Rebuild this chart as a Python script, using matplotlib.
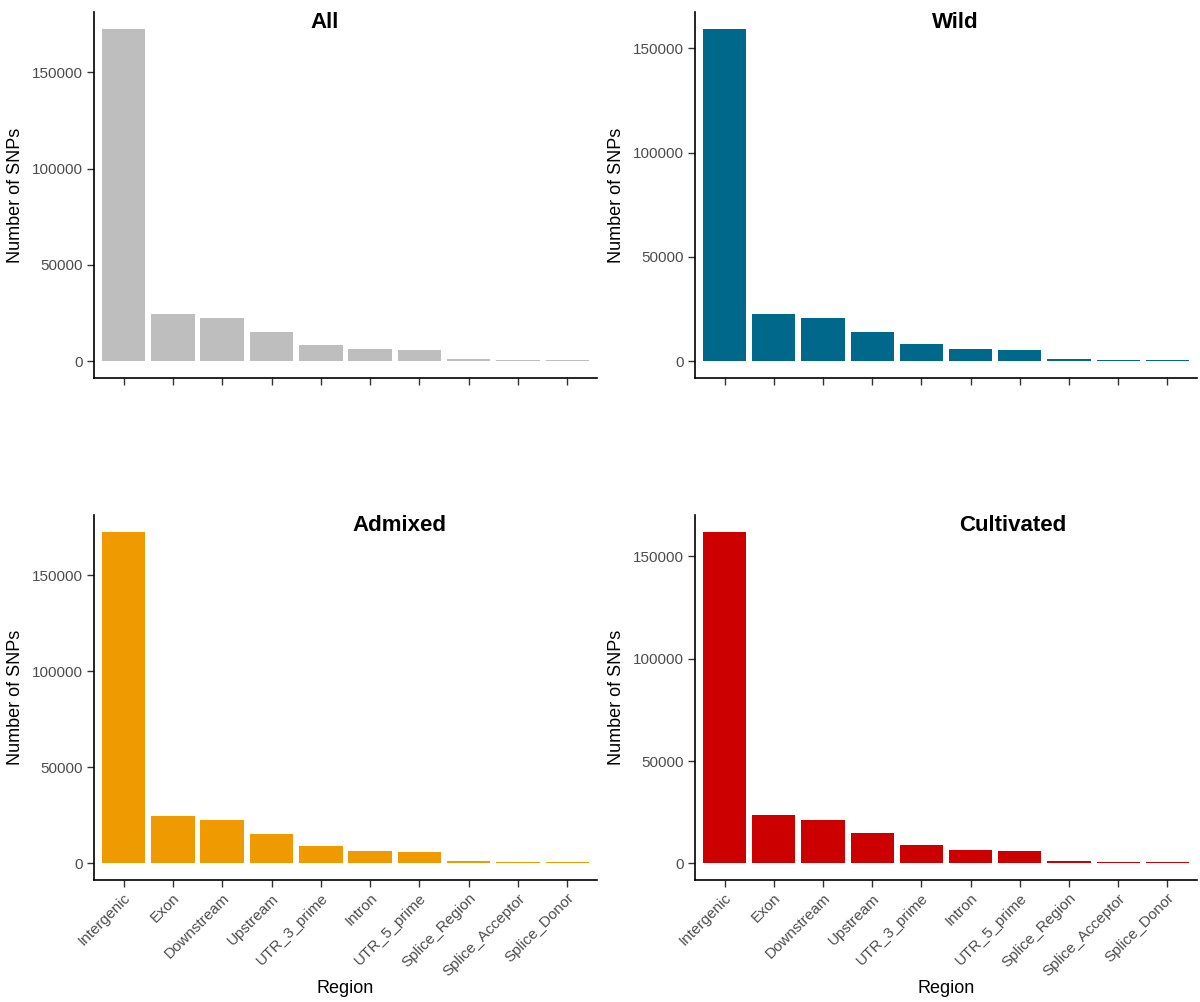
import matplotlib
matplotlib.use("Agg")
import matplotlib.pyplot as plt
import numpy as np

plt.rcParams['font.family'] = ['Liberation Sans', 'DejaVu Sans']

regions = ["Intergenic", "Exon", "Downstream", "Upstream", "UTR_3_prime",
           "Intron", "UTR_5_prime", "Splice_Region", "Splice_Acceptor", "Splice_Donor"]

all_snps = [172600, 24700, 22400, 15200, 8700, 6300, 5900, 1000, 450, 450]
wild_snps = [159400, 22900, 20900, 14000, 8300, 5700, 5400, 900, 420, 420]
admixed_snps = [172600, 24800, 22600, 15200, 9000, 6600, 6100, 1100, 500, 500]
cultivated_snps = [162100, 23600, 21200, 14600, 8800, 6400, 6000, 1000, 430, 430]

panels = [
    ("All", all_snps, "#BEBEBE", 0.459),
    ("Wild", wild_snps, "#00688B", 0.518),
    ("Admixed", admixed_snps, "#EE9A00", 0.608),
    ("Cultivated", cultivated_snps, "#CD0000", 0.633),
]

# axes boxes in figure fractions [left, bottom, width, height]
boxes = [
    [0.0783, 0.6228, 0.4192, 0.3652],
    [0.5792, 0.6228, 0.4183, 0.3652],
    [0.0783, 0.1218, 0.4192, 0.3642],
    [0.5792, 0.1218, 0.4183, 0.3642],
]


def draw(ax, title, values, color, title_x, show_labels):
    x = np.arange(len(regions))
    ax.bar(x, values, width=0.88, color=color, linewidth=0)
    ax.set_xlim(-0.6, len(regions) - 0.4)
    top = max(values)
    ax.set_ylim(-0.05 * top, top * 1.05)
    ax.set_yticks([0, 50000, 100000, 150000])
    ax.set_yticklabels(["0", "50000", "100000", "150000"])
    ax.set_xticks(x)
    if show_labels:
        ax.set_xticklabels(regions, rotation=45, ha="right", rotation_mode="anchor")
        ax.set_xlabel("Region", fontsize=13, labelpad=1)
    else:
        ax.set_xticklabels([])
    ax.set_ylabel("Number of SNPs", fontsize=13, labelpad=6)
    for s in ["top", "right"]:
        ax.spines[s].set_visible(False)
    for s in ["left", "bottom"]:
        ax.spines[s].set_linewidth(1.2)
        ax.spines[s].set_color("black")
    ax.tick_params(axis="both", length=5, width=1.0, color="#333333",
                   labelcolor="#4D4D4D", labelsize=11, pad=3)
    ax.text(title_x, 0.972, title, transform=ax.transAxes, ha="center", va="center",
            fontsize=16, fontweight="bold")


def main():
    fig = plt.figure(figsize=(12, 10.02), dpi=100)
    for i, (title, values, color, tx) in enumerate(panels):
        ax = fig.add_axes(boxes[i])
        draw(ax, title, values, color, tx, show_labels=(i >= 2))
    fig.savefig("out.png", dpi=100, facecolor="white")


if __name__ == "__main__":
    main()
